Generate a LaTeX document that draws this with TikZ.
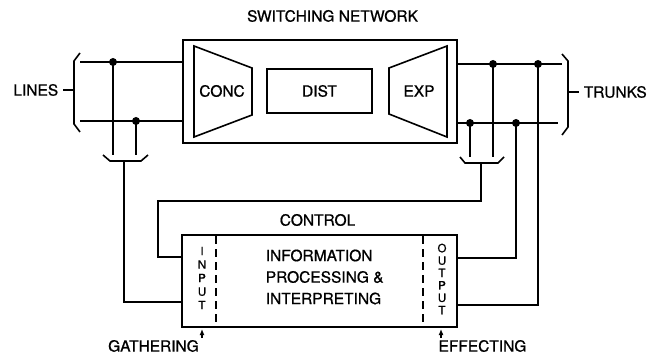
\documentclass[tikz,border=0pt]{standalone}
\usepackage{fontspec}
\setmainfont{TeX Gyre Heros}[FakeBold=0.9]
\usetikzlibrary{arrows.meta}
\begin{document}
\begin{tikzpicture}[x=1pt,y=-1pt,line width=1.6pt,
  lbl/.style={font=\fontsize{15.5}{18}\selectfont, inner sep=0pt},
  vlbl/.style={inner sep=0pt, align=center},
  box/.style={draw, rectangle, inner sep=0pt},
  dot/.style={circle, fill, inner sep=0pt, minimum size=8pt},
  sepline/.style={dash pattern=on 8pt off 5pt, line width=1.4pt},
  tip/.style={-{Latex[length=6pt,width=5pt]}, line width=1.2pt}]
\useasboundingbox (0,0) rectangle (652,355);

% switching network
\node[box, minimum width=274pt, minimum height=103pt] (sw) at (320,91.5) {};
\node[lbl] (swl) at (332.5,16) {SWITCHING NETWORK};
\draw (194,46) -- (252,68) -- (252,115) -- (194,137) -- cycle;
\node[lbl] (conc) at (222,91) {CONC};
\node[box, lbl, minimum width=105pt, minimum height=44pt] (dist) at (319.5,91) {DIST};
\draw (389,68) -- (447,46) -- (447,137) -- (389,114) -- cycle;
\node[lbl] (exp) at (419,91) {EXP};

% left side: lines
\coordinate (lt) at (80,62);
\coordinate (lb) at (80,121);
\draw (lt) -- (lt -| sw.west);
\draw (lb) -- (lb -| sw.west);
\draw (80,53) -- (74,61) -- (74,124) -- (80,132);
\node[lbl, anchor=east] (lines) at (59,90) {LINES};
\coordinate (lbr) at (74,90);
\draw ([xshift=4pt]lines.east) -- (lbr);
\node[dot] (d1) at (113,62) {};
\node[dot] (d2) at (136,121) {};
\coordinate (trL) at (124,155);
\coordinate (tl) at (124,161);
\draw (103,155) -- (110,161) -- (141,161) -- (148,155);
\draw (d1.center) -- (d1 |- trL);
\draw (d2.center) -- (d2 |- trL);

% right side: trunks
\coordinate (rt) at (562,64);
\coordinate (rb) at (558,123);
\draw (sw.east |- rt) -- (rt);
\draw (sw.east |- rb) -- (rb);
\draw (562,54) -- (568,61) -- (568,127) -- (562,135);
\node[lbl, anchor=west] (trunks) at (583,92) {TRUNKS};
\coordinate (rbr) at (568,92);
\draw (rbr) -- ([xshift=-4pt]trunks.west);
\node[dot] (d3) at (493,64) {};
\node[dot] (d4) at (538,64) {};
\node[dot] (d5) at (470,123) {};
\node[dot] (d6) at (516,123) {};
\coordinate (trR) at (481,157);
\coordinate (tr) at (481,163);
\draw (460,157) -- (465,163) -- (498,163) -- (504,157);
\draw (d3.center) -- (d3 |- trR);
\draw (d5.center) -- (d5 |- trR);

% control
\node[box, minimum width=275pt, minimum height=92pt] (ctrl) at (319.5,281) {};
\node[lbl] (ctl) at (317.5,220) {CONTROL};
\draw[sepline] (216,236) -- (216,327);
\draw[sepline] (423,236) -- (423,327);
\node[lbl, anchor=west, align=left, font=\fontsize{15.5}{21.5}\selectfont] (info) at (265,277)
  {INFORMATION\\PROCESSING \&\\INTERPRETING};
\node[vlbl, font=\fontsize{11.5}{13.5}\selectfont] (inp) at (202,278) {I\\N\\P\\U\\T};
\node[vlbl, font=\fontsize{11.5}{12.4}\selectfont] (outp) at (442,279) {O\\U\\T\\P\\U\\T};

% loops
\coordinate (yIn) at (0,302);
\coordinate (loopTop) at (158,201);
\coordinate (yIn2) at (0,257);
\coordinate (yOut1) at (0,258);
\coordinate (yOut2) at (0,305);
\draw (tl) |- (ctrl.west |- yIn);
\draw (tr) |- (loopTop) |- (ctrl.west |- yIn2);
\draw (d6.center) |- (ctrl.east |- yOut1);
\draw (d4.center) |- (ctrl.east |- yOut2);

% bottom labels
\node[lbl] (gath) at (153.5,346) {GATHERING};
\node[lbl] (eff) at (482.5,346) {EFFECTING};
\coordinate (ga0) at (202,338);
\coordinate (ga1) at (202,329);
\coordinate (ef0) at (441,338);
\coordinate (ef1) at (441,329);
\draw[tip] (ga0) -- (ga1);
\draw[tip] (ef0) -- (ef1);
\end{tikzpicture}
\end{document}
